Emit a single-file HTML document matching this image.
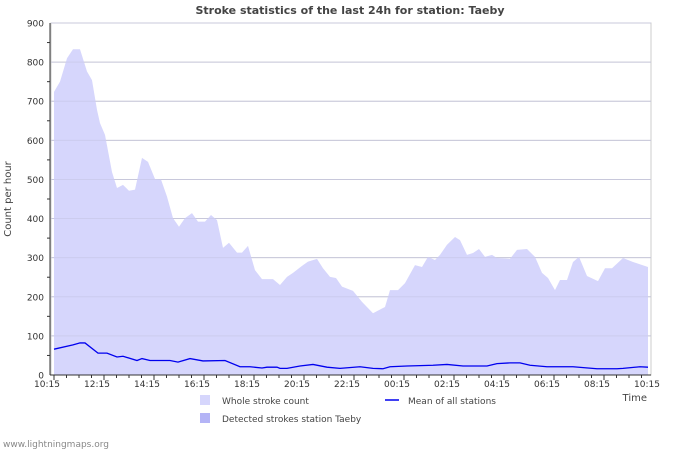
<!DOCTYPE html>
<html><head><meta charset="utf-8"><style>
body{margin:0;background:#fff;width:700px;height:450px;overflow:hidden;font-family:"Liberation Sans","DejaVu Sans",sans-serif}
svg text{font-family:"DejaVu Sans","Liberation Sans",sans-serif}
</style></head><body>
<svg id="chart" width="700" height="450" xmlns="http://www.w3.org/2000/svg">
<text x="350" y="14" text-anchor="middle" font-size="11" font-weight="bold" fill="#444">Stroke statistics of the last 24h for station: Taeby</text>
<text transform="translate(11,199) rotate(-90)" text-anchor="middle" font-size="10" fill="#444">Count per hour</text>
<text x="647" y="401" text-anchor="end" font-size="10" fill="#444">Time</text>
<g id="grid"></g><g id="series"></g><g id="axes"></g>
<g>
<rect x="200" y="395" width="10" height="10" fill="#d6d6fc"/>
<text x="222" y="404" font-size="9" fill="#444">Whole stroke count</text>
<line x1="385" y1="400" x2="399" y2="400" stroke="#0000ee" stroke-width="1.5"/>
<text x="408" y="404" font-size="9" fill="#444">Mean of all stations</text>
<rect x="200" y="413" width="10" height="10" fill="#b4b4f6"/>
<text x="222" y="422" font-size="9" fill="#444">Detected strokes station Taeby</text>
</g>
<text x="3" y="447" font-size="9" fill="#888">www.lightningmaps.org</text>
</svg>
<script>
const xTickLabels=["10:15","12:15","14:15","16:15","18:15","20:15","22:15","00:15","02:15","04:15","06:15","08:15","10:15"];
const yTicks=[0,100,200,300,400,500,600,700,800,900];
const wholeHours=[0.16,0.4,0.68,0.92,1.2,1.48,1.68,1.88,2.0,2.2,2.48,2.68,2.92,3.16,3.4,3.68,3.92,4.2,4.44,4.68,4.92,5.16,5.4,5.68,5.92,6.2,6.44,6.68,6.92,7.16,7.48,7.68,7.92,8.2,8.48,8.92,9.2,9.48,9.72,10.08,10.32,10.68,10.92,11.2,11.44,11.68,12.12,12.48,12.92,13.4,13.6,13.92,14.2,14.6,14.88,15.12,15.4,15.6,15.88,16.2,16.4,16.68,16.92,17.16,17.4,17.68,17.88,18.4,18.68,19.08,19.4,19.68,19.92,20.2,20.4,20.68,20.92,21.16,21.48,21.92,22.2,22.48,22.92,23.32,23.92];
const wholeValues=[724,750,810,833,833,776,754,678,644,614,519,478,486,471,474,555,545,501,500,456,401,379,401,414,392,392,409,396,325,338,313,313,330,268,245,245,230,251,261,279,290,297,273,251,248,226,215,187,158,174,217,217,235,281,276,302,294,307,333,353,345,307,312,322,302,307,299,297,320,322,302,261,248,217,243,243,289,302,253,240,273,273,299,289,276];
const meanHours=[0.16,0.92,1.2,1.4,1.92,2.28,2.68,2.92,3.48,3.68,4.0,4.8,5.12,5.6,6.12,7.0,7.6,8.0,8.48,8.68,9.08,9.2,9.48,10.0,10.52,11.08,11.6,12.4,12.92,13.32,13.6,14.28,15.32,15.88,16.52,17.48,17.88,18.4,18.8,19.2,19.88,20.28,20.92,21.88,22.68,22.92,23.6,23.92];
const meanValues=[66,77,82,82,56,56,46,48,37,42,37,37,33,42,36,37,21,21,18,20,20,17,17,23,27,20,17,21,17,16,21,23,25,27,23,23,29,31,31,25,21,21,21,16,16,17,21,20];
const L=50,R=651,T=23,B=375;
const xs=h=>L+h*25;
const ys=v=>B-v*(B-T)/900;
const NS="http://www.w3.org/2000/svg";
function mk(tag,attrs,parent){const e=document.createElementNS(NS,tag);for(const k in attrs)e.setAttribute(k,attrs[k]);parent.appendChild(e);return e;}
const grid=document.getElementById('grid'),axes=document.getElementById('axes'),series=document.getElementById('series');
yTicks.forEach(v=>{
 const g=mk('line',{x1:L+1,x2:R,y1:ys(v),y2:ys(v),stroke:'#cccccc','stroke-width':1},grid);
 
 
 const t=mk('text',{x:44,y:ys(v)+3.5,'text-anchor':'end','font-size':9,fill:'#333'},axes);
 t.textContent=v;
 
 
 if(v<900){const m=mk('line',{x1:L-3,x2:L,y1:ys(v+50),y2:ys(v+50),stroke:'#333'},axes);
 
 }
});
const frame=mk('rect',{x:L+1,y:T,width:R-L-1,height:B-T,fill:'none',stroke:'#cccccc'},grid);


let d='M'+xs(wholeHours[0])+','+ys(0);
wholeHours.forEach((h,i)=>{d+=' L'+xs(h)+','+ys(wholeValues[i]);});
d+=' L'+xs(wholeHours[wholeHours.length-1])+','+ys(0)+' Z';
const area=mk('path',{d:d,fill:'#d6d6fc'},series);


// redraw gridlines faintly over area
yTicks.forEach(v=>{if(v>0){const g=mk('line',{x1:L+1,x2:R,y1:ys(v),y2:ys(v),stroke:'#c4c4e4','stroke-width':1,'stroke-opacity':0.6},series);
 
 }});
const mp=mk('polyline',{points:meanHours.map((h,i)=>xs(h)+','+ys(meanValues[i])).join(' '),fill:'none',stroke:'#0000ee','stroke-width':1.3},series);


const ax=mk('line',{x1:L,x2:R,y1:B,y2:B,stroke:'#333'},axes);


const ay=mk('line',{x1:L,x2:L,y1:T,y2:B,stroke:'#333'},axes);


for(let i=0;i<=48;i++){
 const x=xs(i*0.5)+4;const major=i%4===0;
 if(x>R)break;
 const tk=mk('line',{x1:x,x2:x,y1:B,y2:B+(major?5:3),stroke:'#333'},axes);
 
 
}
xTickLabels.forEach((lab,i)=>{
 const t=mk('text',{x:xs(i*2)-3,y:B+12,'text-anchor':'middle','font-size':9,fill:'#333'},axes);
 t.textContent=lab;
 
 
});
</script>
</body></html>
